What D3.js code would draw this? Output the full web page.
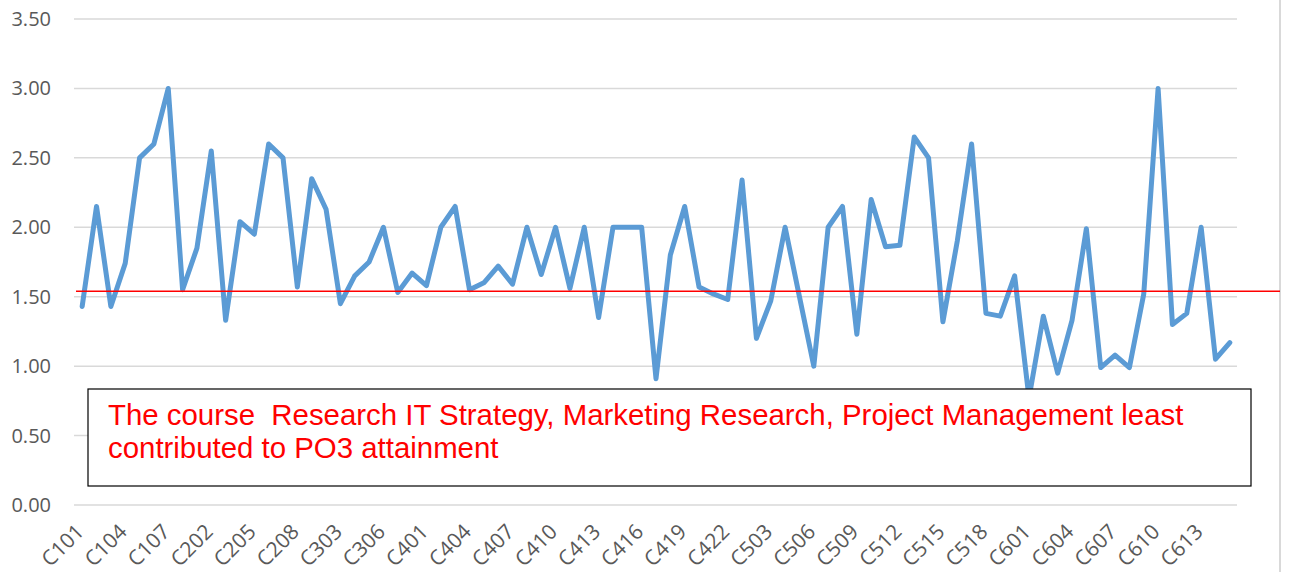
<!DOCTYPE html>
<html>
<head>
<meta charset="utf-8">
<script src="https://cdn.jsdelivr.net/npm/d3@7"></script>
<style>
  body { margin: 0; background: #fff; }
  svg { display: block; }
  .grid line { stroke: #d9d9d9; stroke-width: 1.5; }
  .tick-label { font-family: "Open Sans", sans-serif; font-size: 20px; fill: #595959; }
  .x-label { font-size: 21px; }
  .note { font-family: "Liberation Sans", Arial, sans-serif; font-size: 29.4px; fill: #ff0000; white-space: pre; }
</style>
</head>
<body>
<svg id="chart" width="1291" height="572"></svg>
<script>
// course codes, by semester
const semesters = [
  { prefix: "C1", count: 8 },
  { prefix: "C2", count: 8 },
  { prefix: "C3", count: 8 },
  { prefix: "C4", count: 22 },
  { prefix: "C5", count: 20 },
  { prefix: "C6", count: 15 },
];
const courses = semesters.flatMap((s) =>
  d3.range(1, s.count + 1).map((i) => `${s.prefix}${String(i).padStart(2, "0")}`)
);

// PO3 attainment per course
const attainment = [
  1.43, 2.15, 1.43, 1.74, 2.50, 2.60, 3.00, 1.55,
  1.85, 2.55, 1.33, 2.04, 1.95, 2.60, 2.50, 1.57,
  2.35, 2.13, 1.45, 1.65, 1.75, 2.00, 1.53, 1.67,
  1.58, 2.00, 2.15, 1.55, 1.60, 1.72, 1.59, 2.00, 1.66, 2.00, 1.56, 2.00,
  1.35, 2.00, 2.00, 2.00, 0.91, 1.80, 2.15, 1.57, 1.52, 1.48,
  2.34, 1.20, 1.47, 2.00, 1.50, 1.00, 2.00, 2.15, 1.23, 2.20,
  1.86, 1.87, 2.65, 2.50, 1.32, 1.90, 2.60, 1.38, 1.36, 1.65,
  0.77, 1.36, 0.95, 1.33, 1.99, 0.99, 1.08, 0.99, 1.52, 3.00,
  1.30, 1.38, 2.00, 1.05, 1.17,
];

const threshold = 1.54;
const yTicks = [0, 0.5, 1, 1.5, 2, 2.5, 3, 3.5];
const noteLines = [
  "The course  Research IT Strategy, Marketing Research, Project Management least",
  "contributed to PO3 attainment",
];

const svg = d3.select("#chart");
const plotLeft = 75, plotRight = 1237, plotTop = 19, plotBottom = 505;

const x = d3.scaleBand().domain(courses).range([plotLeft, plotRight]);
const cx = (c) => x(c) + x.bandwidth() / 2;
const y = d3.scaleLinear().domain([0, 3.5]).range([plotBottom, plotTop]);

// horizontal gridlines + y labels
const grid = svg.append("g").attr("class", "grid");
grid.selectAll("line").data(yTicks).join("line")
  .attr("x1", plotLeft - 1).attr("x2", plotRight)
  .attr("y1", (d) => y(d)).attr("y2", (d) => y(d));

svg.append("g").selectAll("text").data(yTicks).join("text")
  .attr("class", "tick-label")
  .attr("x", 51).attr("y", (d) => y(d)).attr("dy", "0.35em")
  .attr("text-anchor", "end")
  .text((d) => d3.format(".2f")(d));

// right border line
svg.append("line")
  .attr("x1", 1280).attr("x2", 1280).attr("y1", 0).attr("y2", 572)
  .attr("stroke", "#d9d9d9").attr("stroke-width", 2);

// x labels every third course
svg.append("g").selectAll("text")
  .data(courses.filter((d, i) => i % 3 === 0))
  .join("text")
  .attr("class", "tick-label x-label")
  .attr("text-anchor", "end")
  .attr("transform", (d) => `translate(${cx(d) + 3},${plotBottom + 28}) rotate(-45)`)
  .text((d) => d);

// series line
const line = d3.line().x((d, i) => cx(courses[i])).y((d) => y(d));
svg.append("path")
  .datum(attainment)
  .attr("d", line)
  .attr("fill", "none")
  .attr("stroke", "#5b9bd5")
  .attr("stroke-width", 5)
  .attr("stroke-linejoin", "round")
  .attr("stroke-linecap", "round");

// average / target line
svg.append("line")
  .attr("x1", plotLeft + 1).attr("x2", 1280)
  .attr("y1", y(threshold)).attr("y2", y(threshold))
  .attr("stroke", "#ff0000").attr("stroke-width", 1.5);

// note box
const note = svg.append("g");
note.append("rect")
  .attr("x", 88).attr("y", 389).attr("width", 1163).attr("height", 97)
  .attr("fill", "#fff").attr("stroke", "#000").attr("stroke-width", 1.2);
note.selectAll("text").data(noteLines).join("text")
  .attr("class", "note")
  .attr("x", 108).attr("y", (d, i) => 425 + i * 33)
  .text((d) => d);
</script>
</body>
</html>
